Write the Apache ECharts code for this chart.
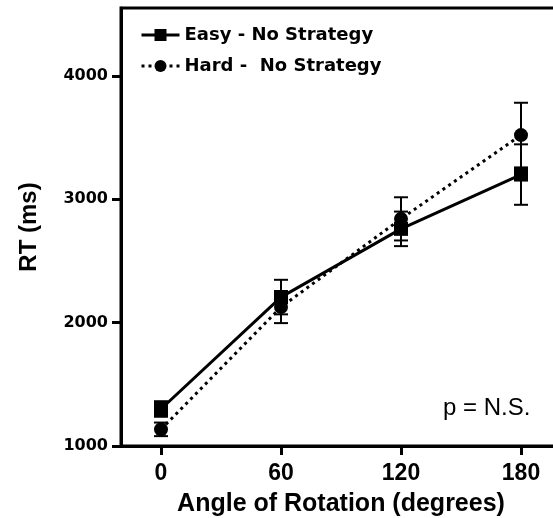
<!DOCTYPE html>
<html>
<head>
<meta charset="utf-8">
<script src="https://cdn.jsdelivr.net/npm/echarts@6/dist/echarts.min.js"></script>
<style>html,body{margin:0;padding:0;background:#fff;}#c{width:553px;height:518px;}</style>
</head>
<body>
<div id="c"></div>
<script>
const angles = [0, 60, 120, 180];
const xTicks = [0, 60, 120, 180];
const yTicks = [1000, 2000, 3000, 4000];
const easyName = 'Easy - No Strategy';
const hardName = 'Hard -  No Strategy';
const easyRT = [1300, 2207, 2760, 3200];
const easySEM = [63, 140, 140, 245];
const hardRT = [1135, 2126, 2841, 3520];
const hardSEM = [55, 130, 175, 262];

const chart = echarts.init(document.getElementById('c'));

function pairs(xs, ys) { return xs.map((x, i) => [x, ys[i]]); }
function errs(xs, ys, es) { return xs.map((x, i) => [x, ys[i] - es[i], ys[i] + es[i]]); }

function errRender(params, api) {
  const x = api.value(0);
  const lo = api.coord([x, api.value(1)]);
  const hi = api.coord([x, api.value(2)]);
  const hw = 7;
  const st = { stroke: '#000', lineWidth: 2 };
  return {
    type: 'group',
    children: [
      { type: 'line', shape: { x1: lo[0], y1: lo[1], x2: hi[0], y2: hi[1] }, style: st },
      { type: 'line', shape: { x1: lo[0] - hw, y1: lo[1], x2: lo[0] + hw, y2: lo[1] }, style: st },
      { type: 'line', shape: { x1: hi[0] - hw, y1: hi[1], x2: hi[0] + hw, y2: hi[1] }, style: st }
    ]
  };
}

const option = {
  animation: false,
  backgroundColor: '#fff',
  grid: {
    left: 121, top: 8, width: 440, height: 438,
    show: true, borderColor: '#000', borderWidth: 3,
    outerBoundsMode: 'none', containLabel: false
  },
  legend: {
    orient: 'vertical',
    left: 135, top: 21,
    itemWidth: 38, itemHeight: 15, itemGap: 13,
    data: [easyName, hardName],
    lineStyle: { width: 3 },
    textStyle: { fontFamily: 'DejaVu Sans', fontWeight: 'bold', fontSize: 18, color: '#000' },
    selectedMode: false
  },
  xAxis: {
    type: 'value', min: -20, max: 200,
    name: 'Angle of Rotation (degrees)', nameLocation: 'middle', nameGap: 46,
    nameTextStyle: { fontFamily: 'Liberation Sans', fontWeight: 'bold', fontSize: 25, color: '#000' },
    axisLine: { show: true, onZero: false, lineStyle: { color: '#000', width: 3 } },
    axisTick: { show: true, length: 9, lineStyle: { color: '#000', width: 3 }, customValues: xTicks },
    axisLabel: { customValues: xTicks, margin: 16, fontFamily: 'Liberation Sans', fontWeight: 'bold', fontSize: 23, color: '#000', formatter: v => String(v) },
    splitLine: { show: false }
  },
  yAxis: {
    type: 'value', min: 1000, max: 4550,
    name: 'RT (ms)', nameLocation: 'middle', nameGap: 80, nameRotate: 90,
    nameTextStyle: { fontFamily: 'Liberation Sans', fontWeight: 'bold', fontSize: 24, color: '#000' },
    axisLine: { show: true, onZero: false, lineStyle: { color: '#000', width: 3 } },
    axisTick: { show: true, length: 9, lineStyle: { color: '#000', width: 3 }, customValues: yTicks },
    axisLabel: { customValues: yTicks, margin: 13, fontFamily: 'DejaVu Sans', fontWeight: 'bold', fontSize: 16, color: '#000', formatter: v => String(v) },
    splitLine: { show: false }
  },
  series: [
    {
      type: 'custom', name: 'easyErr', renderItem: errRender,
      data: errs(angles, easyRT, easySEM), z: 2, silent: true,
      encode: { x: 0, y: [1, 2] }
    },
    {
      type: 'custom', name: 'hardErr', renderItem: errRender,
      data: errs(angles, hardRT, hardSEM), z: 2, silent: true,
      encode: { x: 0, y: [1, 2] }
    },
    {
      type: 'line', name: hardName, data: pairs(angles, hardRT),
      symbol: 'circle', symbolSize: 14,
      itemStyle: { color: '#000' },
      lineStyle: { color: '#000', width: 3, type: [3, 4] },
      z: 3
    },
    {
      type: 'line', name: easyName, data: pairs(angles, easyRT),
      symbol: 'rect', symbolSize: 14,
      itemStyle: { color: '#000' },
      lineStyle: { color: '#000', width: 3, type: 'solid' },
      z: 4
    }
  ],
  graphic: [
    {
      type: 'text', left: 443, top: 396,
      style: { text: 'p = N.S.', fontFamily: 'Liberation Sans', fontSize: 24, fill: '#000' }
    }
  ]
};
chart.setOption(option);
</script>
</body>
</html>
